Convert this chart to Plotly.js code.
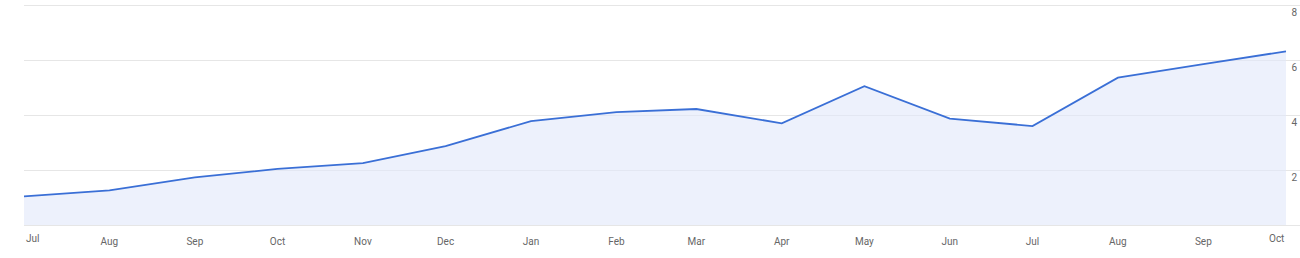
<!DOCTYPE html>
<html>
<head>
<meta charset="utf-8">
<script src="https://cdn.plot.ly/plotly-3.0.1.min.js"></script>
<style>
html,body{margin:0;padding:0;background:#fff;overflow:hidden;}
#chart{width:1300px;height:258px;}
</style>
</head>
<body>
<div id="chart"></div>
<script>
const months = ['2023-07-01','2023-08-01','2023-09-01','2023-10-01','2023-11-01','2023-12-01',
  '2024-01-01','2024-02-01','2024-03-01','2024-04-01','2024-05-01','2024-06-01',
  '2024-07-01','2024-08-01','2024-09-01','2024-10-01'];
const values = [1.04,1.26,1.73,2.04,2.25,2.87,3.78,4.11,4.22,3.70,5.05,3.87,3.60,5.36,5.85,6.32];
const monthLabels = ['Jul','Aug','Sep','Oct','Nov','Dec','Jan','Feb','Mar','Apr','May','Jun','Jul','Aug','Sep','Oct'];
const yTicks = [2,4,6,8];
const yTickLabels = ['2','4','6','8'];

const midVals = months.slice(1, -1);
const midText = monthLabels.slice(1, -1);

const trace = {
  x: months,
  y: values,
  type: 'scatter',
  mode: 'lines',
  line: {color: '#3a6fd6', width: 1.8},
  fill: 'tozeroy',
  fillcolor: 'rgba(225,232,250,0.6)',
  hoverinfo: 'x+y'
};

const layout = {
  width: 1300,
  height: 258,
  margin: {l: 24, r: 0, t: 1, b: 33},
  paper_bgcolor: '#fff',
  plot_bgcolor: '#fff',
  showlegend: false,
  font: {family: 'Roboto, Arial, sans-serif', size: 10, color: '#666'},
  xaxis: {
    type: 'date',
    range: ['2023-07-01', '2024-10-06 02:00'],
    tickmode: 'array',
    tickvals: midVals,
    ticktext: midText,
    showgrid: false,
    zeroline: false,
    showline: true,
    linecolor: '#e6e6e6',
    linewidth: 1,
    ticks: '',
    ticklabelstandoff: 7,
    tickfont: {size: 10, color: '#666'},
    fixedrange: true
  },
  yaxis: {
    side: 'right',
    range: [0, 8.15],
    tickmode: 'array',
    tickvals: [0].concat(yTicks),
    ticktext: [''].concat(yTickLabels),
    ticklabelposition: 'inside',
    showgrid: true,
    gridcolor: '#e6e6e6',
    gridwidth: 1,
    zeroline: false,
    showline: false,
    ticks: '',
    ticklabelshift: 7,
    tickfont: {size: 10, color: '#666'},
    fixedrange: true
  },
  annotations: [
    {x: months[0], y: 0, xref: 'x', yref: 'y', text: monthLabels[0], showarrow: false,
     xanchor: 'left', yanchor: 'top', yshift: -6, font: {size: 10, color: '#666'}},
    {x: months[months.length - 1], y: 0, xref: 'x', yref: 'y', text: monthLabels[monthLabels.length - 1], showarrow: false,
     xanchor: 'right', yanchor: 'top', yshift: -6, font: {size: 10, color: '#666'}}
  ]
};

Plotly.newPlot('chart', [trace], layout, {displayModeBar: false, staticPlot: true});
</script>
</body>
</html>
